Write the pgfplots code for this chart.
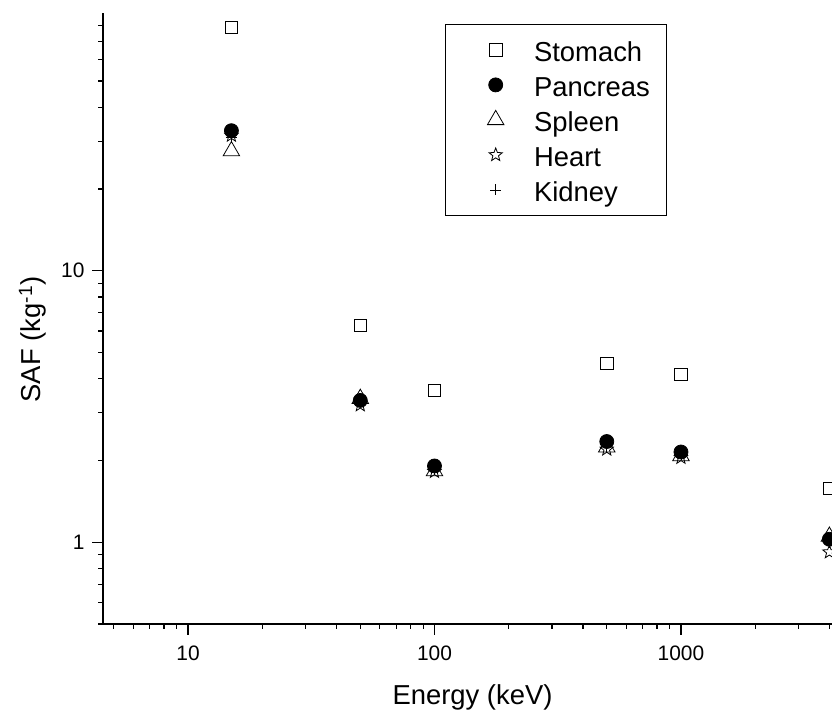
\documentclass[border=0pt]{standalone}
\usepackage{pgfplots}
\pgfplotsset{compat=1.18}
\usepackage{fontspec}
\setmainfont{Liberation Sans}
\pgfdeclareplotmark{ostar}{%
  \pgfpathmoveto{\pgfpointpolar{90}{\pgfplotmarksize}}%
  \pgfpathlineto{\pgfpointpolar{126}{0.42\pgfplotmarksize}}%
  \pgfpathlineto{\pgfpointpolar{162}{\pgfplotmarksize}}%
  \pgfpathlineto{\pgfpointpolar{198}{0.42\pgfplotmarksize}}%
  \pgfpathlineto{\pgfpointpolar{234}{\pgfplotmarksize}}%
  \pgfpathlineto{\pgfpointpolar{270}{0.42\pgfplotmarksize}}%
  \pgfpathlineto{\pgfpointpolar{306}{\pgfplotmarksize}}%
  \pgfpathlineto{\pgfpointpolar{342}{0.42\pgfplotmarksize}}%
  \pgfpathlineto{\pgfpointpolar{18}{\pgfplotmarksize}}%
  \pgfpathlineto{\pgfpointpolar{54}{0.42\pgfplotmarksize}}%
  \pgfpathclose
  \pgfusepathqstroke}
\pgfplotsset{
  mylegimg/.style={legend image code/.code={%
    \path (-36bp,0bp) (35bp,0bp);
    \draw[##1] plot coordinates {(0bp,0bp)};}},
}
\begin{document}
\begin{tikzpicture}
\begin{axis}[
  scale only axis, width=729bp, height=611bp,
  xmode=log, ymode=log,
  xmin=4.52, xmax=4100, ymin=0.5, ymax=89,
  axis x line*=bottom, axis y line*=left,
  axis line style={line width=1.5bp},
  tick align=outside,
  major tick length=11bp, minor tick length=5bp,
  every major tick/.style={line width=1.3bp, black},
  every minor tick/.style={line width=1.3bp, black},
  xtick={10,100,1000}, xticklabels={10,100,1000},
  minor xtick={5,6,7,8,9,20,30,40,50,60,70,80,90,200,300,400,500,600,700,800,900,2000,3000,4000},
  ytick={1,10}, yticklabels={1,10},
  minor ytick={0.5,0.6,0.7,0.8,0.9,2,3,4,5,6,7,8,9,20,30,40,50,60,70,80},
  tick label style={font=\fontsize{21}{25}\selectfont},
  xticklabel style={yshift=-7bp},
  yticklabel style={xshift=-4bp},
  /pgf/number format/assume math mode=true,
  xlabel={Energy (keV)},
  ylabel={SAF (kg\textsuperscript{-1})},
  label style={font=\fontsize{27.5}{32}\selectfont},
  xlabel style={at={(axis description cs:0.5,0)}, anchor=base, yshift=-80bp, xshift=5bp},
  ylabel style={at={(axis description cs:0,0.5)}, anchor=base, yshift=62bp, xshift=-21bp},
  clip marker paths=true,
  legend style={at={(axis description cs:0.469,0.982)}, anchor=north west,
    draw=black, line width=0.8bp, font=\fontsize{27.5}{32}\selectfont,
    cells={anchor=west}, inner xsep=14bp, inner ysep=8.5bp,
    row sep=1bp, column sep=0pt,
    nodes={inner xsep=3bp, inner ysep=0bp, text height=28.5bp, text depth=5.5bp}},
]
\addplot[only marks, mylegimg, mark=square, mark size=6.2bp, mark options={line width=0.8bp, draw=black, fill=white}]
  coordinates {(15,78.7) (50,6.28) (100,3.63) (500,4.55) (1000,4.15) (4000,1.58)};
\addlegendentry{Stomach}
\addplot[only marks, mylegimg, mark=*, mark size=7bp, mark options={line width=0.8bp, draw=black, fill=black}]
  coordinates {(15,32.8) (50,3.33) (100,1.91) (500,2.35) (1000,2.15) (4000,1.026)};
\addlegendentry{Pancreas}
\addplot[only marks, mylegimg, mark=triangle, mark size=9.5bp, mark options={line width=0.8bp, draw=black}]
  coordinates {(15,27.6) (50,3.38) (100,1.83) (500,2.24) (1000,2.08) (4000,1.05)};
\addlegendentry{Spleen}
\addplot[only marks, mylegimg, mark=ostar, mark size=7bp, mark options={line width=0.8bp, draw=black}]
  coordinates {(15,31.5) (50,3.2) (100,1.82) (500,2.2) (1000,2.05) (4000,0.92)};
\addlegendentry{Heart}
\addplot[only marks, mylegimg, mark=+, mark size=5.5bp, mark options={line width=0.6bp, draw=black}]
  coordinates {(15,31) (50,3.3) (100,1.85) (500,2.25) (1000,2.1) (4000,1.0)};
\addlegendentry{Kidney}
\end{axis}
\pgfresetboundingbox
\path[use as bounding box] ([shift={(-103bp,-92bp)}]current axis.south west) rectangle ([shift={(0bp,13bp)}]current axis.north east);
\end{tikzpicture}
\end{document}
